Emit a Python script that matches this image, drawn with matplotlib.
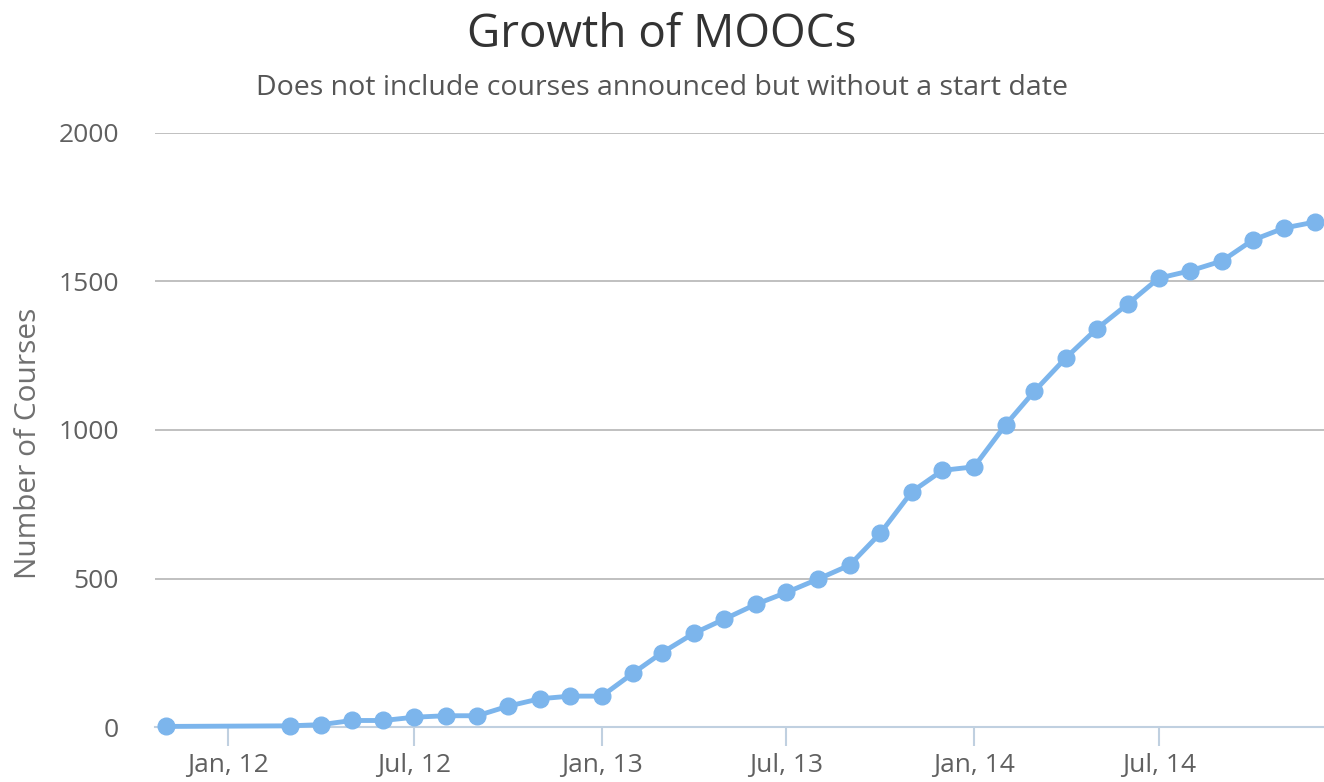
import matplotlib
matplotlib.use('Agg')
import matplotlib.pyplot as plt
import matplotlib.dates as mdates
import pandas as pd

months = ['2011-11', '2012-03', '2012-04', '2012-05', '2012-06', '2012-07',
          '2012-08', '2012-09', '2012-10', '2012-11', '2012-12',
          '2013-01', '2013-02', '2013-03', '2013-04', '2013-05', '2013-06',
          '2013-07', '2013-08', '2013-09', '2013-10', '2013-11', '2013-12',
          '2014-01', '2014-02', '2014-03', '2014-04', '2014-05', '2014-06',
          '2014-07', '2014-08', '2014-09', '2014-10', '2014-11', '2014-12']
courses = [2, 4, 8, 22, 22, 33, 38, 38, 70, 95, 104,
           104, 182, 250, 315, 363, 413, 453, 498, 545, 652, 792, 864,
           876, 1018, 1130, 1243, 1340, 1425, 1511, 1536, 1569, 1639, 1680, 1700]
tick_dates = ['2012-01', '2012-07', '2013-01', '2013-07', '2014-01', '2014-07']
y_ticks = [0, 500, 1000, 1500, 2000]

title = 'Growth of MOOCs'
subtitle = 'Does not include courses announced but without a start date'
y_label = 'Number of Courses'

plt.rcParams['font.family'] = ['Open Sans', 'DejaVu Sans']

fig = plt.figure(figsize=(13.24, 7.82), dpi=100)
ax = fig.add_axes([0.117, 0.0703, 0.883, 0.7597])

dates = pd.to_datetime(months)
ax.plot(dates, courses, '-o', color='#7cb5ec', linewidth=3.5,
        markersize=12, zorder=10, clip_on=False)

ax.set_ylim(0, 2000)
ax.set_xlim(pd.Timestamp('2011-10-21'), pd.Timestamp('2014-12-10'))
ax.set_yticks(y_ticks)
ax.set_xticks(pd.to_datetime(tick_dates))
ax.xaxis.set_major_formatter(mdates.DateFormatter('%b, %y'))

for s in ['left', 'right', 'top']:
    ax.spines[s].set_visible(False)
ax.spines['bottom'].set_color('#c0d0e0')
ax.spines['bottom'].set_linewidth(1.5)

ax.yaxis.grid(True, color='#c0c0c0', linewidth=1.4)
ax.set_axisbelow(True)
ax.tick_params(axis='y', length=0, pad=26, labelsize=19, labelcolor='#606060')
ax.tick_params(axis='x', length=14, width=1.5, color='#c0d0e0', pad=5,
               labelsize=19, labelcolor='#606060')

ax.set_ylabel(y_label, fontsize=21.5, color='#707070')
ax.yaxis.set_label_coords(-0.096, 0.477)

fig.text(0.5, 0.955, title, ha='center', va='center', fontsize=33, color='#333333')
fig.text(0.5, 0.888, subtitle, ha='center', va='center', fontsize=20.5, color='#555555')

fig.savefig('out.png', dpi=100)
